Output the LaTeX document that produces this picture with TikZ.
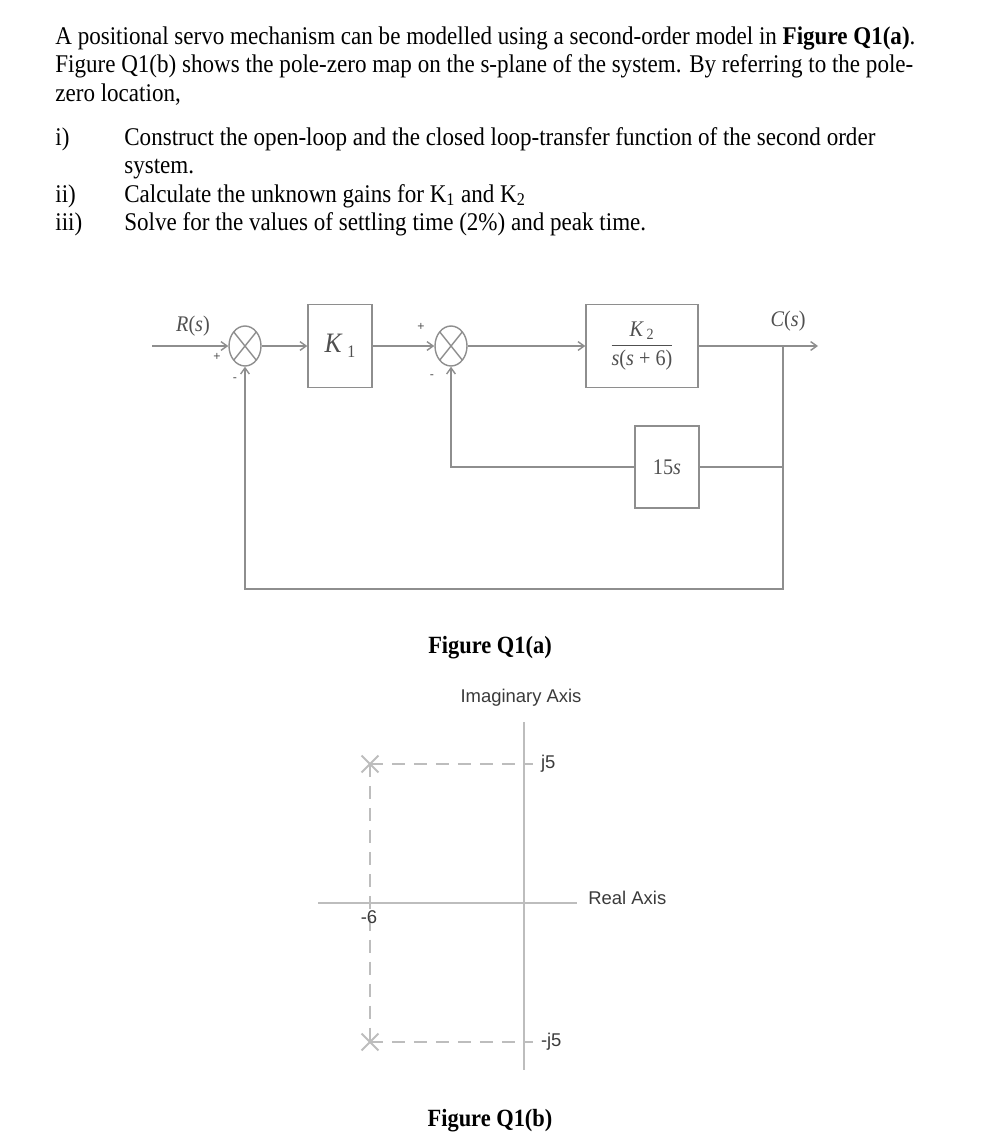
\documentclass[tikz,border=0pt]{standalone}
\usepackage{amsmath}
\usepackage{fontspec}
\setmainfont{Liberation Serif}
\setsansfont{Liberation Sans}
\newfontfamily\qfont[FakeStretch=0.905]{Liberation Serif}
\usepackage{tikz}
\usetikzlibrary{shapes.geometric,shapes.misc,arrows.meta,positioning,calc}
\definecolor{qLine}{HTML}{8E8E8E}
\definecolor{qText}{HTML}{505050}
\definecolor{pzAxis}{HTML}{BDBDBD}
\definecolor{pzText}{HTML}{3A3A3A}

\begin{document}
\begin{tikzpicture}[
  x=0.02cm, y=-0.02cm,
  body/.style={anchor=base west,inner sep=0pt,font=\qfont\fontsize{14.5}{16}\selectfont},
  figcap/.style={anchor=base,inner sep=0pt,font=\qfont\fontsize{14.1}{16}\selectfont\bfseries},
  blk/.style={draw=qLine,line width=0.8pt,minimum width=1.28cm,minimum height=1.66cm,
              inner sep=1pt,text=qText,font=\qfont\fontsize{12.7}{15}\selectfont},
  sumj/.style={draw=qLine,line width=0.8pt,ellipse,inner sep=0pt,minimum width=0.64cm,minimum height=0.8cm,
              path picture={\draw[qLine,line width=0.8pt]
                (path picture bounding box.north west) -- (path picture bounding box.south east)
                (path picture bounding box.north east) -- (path picture bounding box.south west);}},
  sgn/.style={text=qText,font=\sffamily\scriptsize,inner sep=0pt},
  sig/.style={text=qText,font=\qfont\fontsize{12.7}{15}\selectfont,inner sep=0pt},
  ln/.style={draw=qLine,line width=0.8pt},
  ar/.style={ln,-{Straight Barb[length=3.5pt,width=5pt]}},
  ax/.style={draw=pzAxis,line width=1.1pt},
  dsh/.style={draw=pzAxis,line width=1.1pt,dash pattern=on 7.5pt off 5pt},
  pole/.style={cross out,draw=pzAxis,line width=1.1pt,minimum size=0.3cm,inner sep=0pt},
  pzlbl/.style={text=pzText,font=\sffamily\fontsize{10.5}{12}\selectfont,inner sep=0pt}]

\useasboundingbox (0,0) rectangle (986,1136);

% question text
\node[body] (l1) at (55,44) {A positional servo mechanism can be modelled using a second-order model in \textbf{Figure Q1(a)}.};
\node[body] (l2) at (55,72.5) {Figure Q1(b) shows the pole-zero map on the s-plane of the system. By referring to the pole-};
\node[body] (l3) at (55,101) {zero location,};
\node[body] (i1) at (55,145) {i)};
\node[body] (t1) at (124,145) {Construct the open-loop and the closed loop-transfer function of the second order};
\node[body] (t1b) at (124,173.5) {system.};
\node[body] (i2) at (55,202) {ii)};
\node[body] (t2) at (124,202) {Calculate the unknown gains for K\textsubscript{1} and K\textsubscript{2}};
\node[body] (i3) at (55,230.5) {iii)};
\node[body] (t3) at (124,230.5) {Solve for the values of settling time (2\%) and peak time.};

% Figure Q1(a)
\node[sumj] (sumA) at (245,346) {};
\node[blk] (kone) at (340,346) {\fontsize{16}{18}\selectfont\textit{K}\,\raisebox{-3pt}{\fontsize{10}{12}\selectfont 1}};
\node[sumj] (sumB) at (451,346) {};
\node[blk,minimum width=2.24cm] (plant) at (642,346)
     {$\dfrac{\hbox{\textit{K}\textsubscript{\,2}}}{\hbox{\textit{s}(\textit{s} + 6)}}$};
\node[blk,minimum height=1.64cm] (hfb) at (667,467) {15\textit{s}};
\coordinate (rin) at (152,346);
\coordinate (tap) at (783,346);
\coordinate (cout) at (818,346);
\coordinate (bot) at (245,589);

\node[sig] (rlbl) at (193,326) {\textit{R}(\textit{s})};
\node[sig] (clbl) at (788,321) {\textit{C}(\textit{s})};
\node[sgn] (pA) at (217,357) {+};
\node[sgn] (mA) at (235,380) {-};
\node[sgn] (pB) at (421,327) {+};
\node[sgn] (mB) at (432,377) {-};

\draw[ar] (rin) -- (sumA);
\draw[ar] (sumA) -- (kone);
\draw[ar] (kone) -- (sumB);
\draw[ar] (sumB) -- (plant);
\draw[ar] (plant) -- (cout);
\draw[ln] (tap) |- (hfb);
\draw[ar] (hfb) -| (sumB);
\draw[ar] (tap) |- (bot) -- (sumA);

\node[figcap] (capa) at (490,653) {Figure Q1(a)};

% Figure Q1(b)
\node[pzlbl] (imlbl) at (521,698) {Imaginary Axis};
\coordinate (o) at (524,903);
\coordinate (itop) at (524,722);
\coordinate (ibot) at (524,1070);
\coordinate (rl) at (318,903);
\coordinate (rr) at (577,903);
\draw[ax] (itop) -- (ibot);
\draw[ax] (rl) -- (rr);
\node[pzlbl,anchor=west] (relbl) at (588,898) {Real Axis};

\node[pole] (ptop) at (370,764) {};
\node[pole] (pbot) at (370,1042) {};
\draw[dsh] (ptop.center) -- (ptop.center -| o);
\draw[dsh] (pbot.center) -- (pbot.center -| o);
\draw[dsh] (ptop.center) -- (pbot.center);
\draw[ax] (ptop -| o) -- ++(9,0) node[pzlbl,anchor=west,xshift=4pt] (jp) {j5};
\draw[ax] (pbot -| o) -- ++(9,0) node[pzlbl,anchor=west,xshift=4pt] (jm) {-j5};
\node[pzlbl] (six) at (369,917) {-6};

\node[figcap] (capb) at (490,1126) {Figure Q1(b)};
\end{tikzpicture}
\end{document}
